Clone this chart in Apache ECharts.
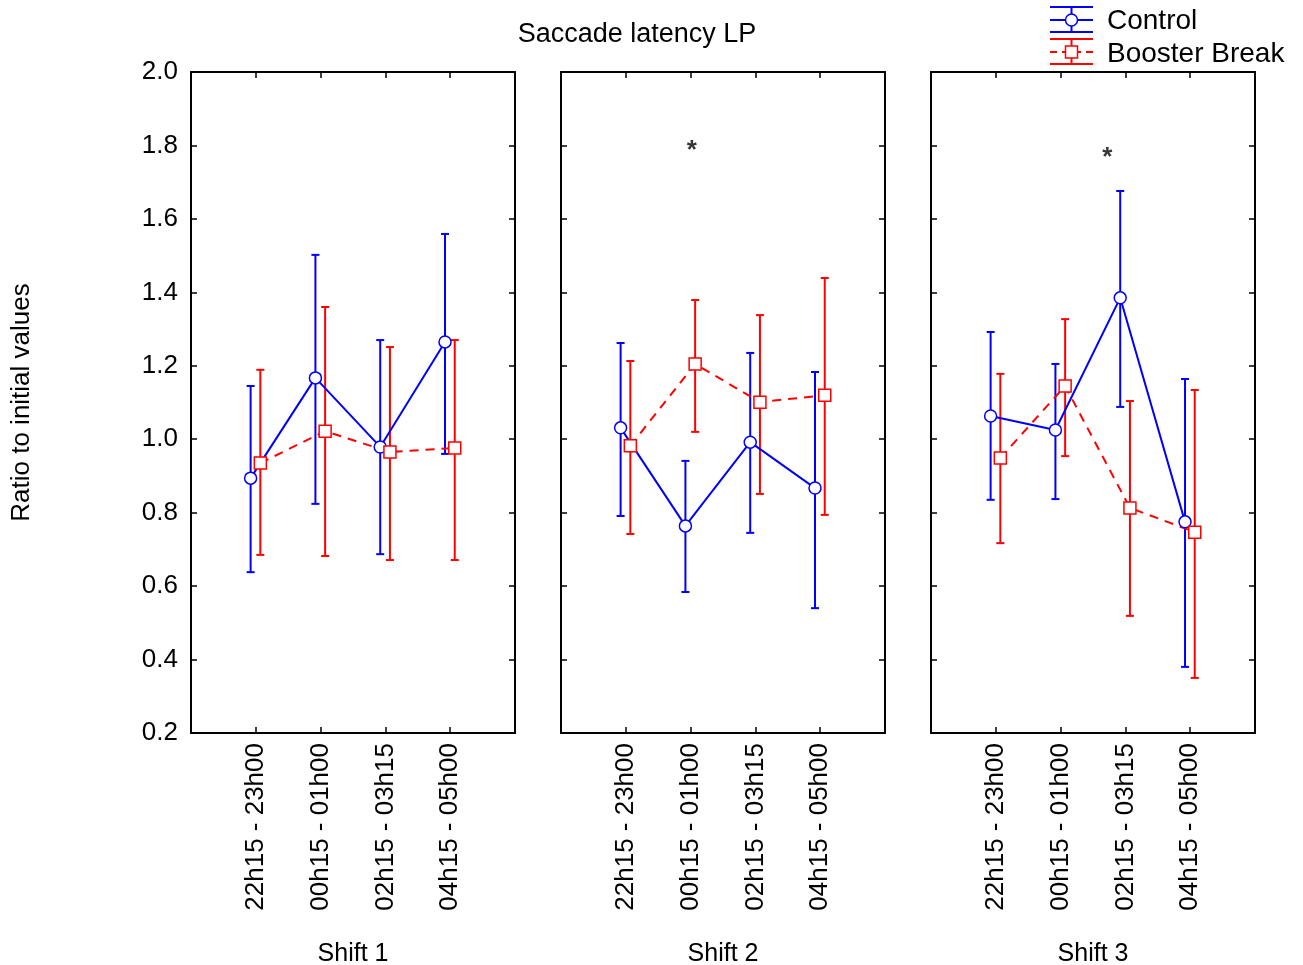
<!DOCTYPE html>
<html>
<head>
<meta charset="utf-8">
<script src="https://cdn.jsdelivr.net/npm/echarts@6/dist/echarts.min.js"></script>
<style>
  html, body { margin: 0; padding: 0; background: #fff; }
  #chart { width: 1303px; height: 965px; }
</style>
</head>
<body>
<div id="chart"></div>
<script>
// data
const timeLabels = ['22h15 - 23h00', '00h15 - 01h00', '02h15 - 03h15', '04h15 - 05h00'];
const shiftNames = ['Shift 1', 'Shift 2', 'Shift 3'];

const ctrlMean = [[0.894, 1.167, 0.979, 1.265], [1.031, 0.764, 0.992, 0.867], [1.063, 1.025, 1.385, 0.775]];
const ctrlHi = [[1.145, 1.502, 1.270, 1.559], [1.262, 0.941, 1.235, 1.183], [1.292, 1.205, 1.676, 1.164]];
const ctrlLo = [[0.638, 0.824, 0.687, 0.960], [0.791, 0.584, 0.745, 0.540], [0.835, 0.837, 1.088, 0.380]];

const boostMean = [[0.935, 1.022, 0.965, 0.976], [0.982, 1.205, 1.101, 1.120], [0.949, 1.145, 0.813, 0.747]];
const boostHi = [[1.189, 1.360, 1.251, 1.270], [1.213, 1.379, 1.338, 1.439], [1.178, 1.327, 1.104, 1.134]];
const boostLo = [[0.685, 0.682, 0.671, 0.671], [0.742, 1.020, 0.851, 0.794], [0.717, 0.954, 0.519, 0.350]];

// significance stars: [panel, x position, y value]
const stars = [[1, 2.02, 1.785], [2, 2.72, 1.767]];

const FONT = 'Liberation Sans, Arial, sans-serif';
const BLUE = '#0000ff';
const RED = '#ff0000';
const ctrlOffset = -0.08;
const boostOffset = 0.07;

const chart = echarts.init(document.getElementById('chart'));

const grids = [];
const xAxes = [];
const yAxes = [];
const series = [];
const lefts = [191, 561, 931];

const frameLine = { show: true, onZero: false, lineStyle: { color: '#000', width: 2 } };
const frameTick = { show: true, inside: true, length: 6, lineStyle: { color: '#000', width: 1.5 } };

lefts.forEach((left, i) => {
    grids.push({ left: left, top: 72, width: 324, height: 661, outerBoundsMode: 'none', containLabel: false });

    // bottom x axis with the time slots
    xAxes.push({
        type: 'value', gridIndex: i, position: 'bottom', min: 0, max: 5, interval: 1,
        axisLine: frameLine, axisTick: frameTick, splitLine: { show: false },
        axisLabel: {
            rotate: 90, margin: 10, color: '#000', fontSize: 26, fontFamily: FONT,
            formatter: v => timeLabels[v - 1] || ''
        },
        name: shiftNames[i], nameLocation: 'middle', nameGap: 209,
        nameTextStyle: { color: '#000', fontSize: 25, fontFamily: FONT }
    });
    // top frame
    xAxes.push({
        type: 'value', gridIndex: i, position: 'top', min: 0, max: 5, interval: 1,
        axisLine: frameLine, axisTick: frameTick,
        axisLabel: { show: false }, splitLine: { show: false }
    });

    yAxes.push({
        type: 'value', gridIndex: i, position: 'left', min: 0.2, max: 2.0, interval: 0.2,
        axisLine: frameLine, axisTick: frameTick, splitLine: { show: false },
        axisLabel: {
            show: i === 0, margin: 13, color: '#000', fontSize: 26, fontFamily: FONT,
            formatter: v => v.toFixed(1)
        },
        name: i === 0 ? 'Ratio to initial values' : '', nameLocation: 'middle', nameGap: 156,
        nameTextStyle: { color: '#000', fontSize: 26, fontFamily: FONT }
    });
    yAxes.push({
        type: 'value', gridIndex: i, position: 'right', min: 0.2, max: 2.0, interval: 0.2,
        axisLine: frameLine, axisTick: frameTick, splitLine: { show: false },
        axisLabel: { show: false }
    });

    const groups = [
        { name: 'Control', mean: ctrlMean[i], hi: ctrlHi[i], lo: ctrlLo[i], off: ctrlOffset, color: BLUE, dash: 'solid', symbol: 'circle', size: 12 },
        { name: 'Booster Break', mean: boostMean[i], hi: boostHi[i], lo: boostLo[i], off: boostOffset, color: RED, dash: [9, 7], symbol: 'rect', size: 12 }
    ];

    groups.forEach(g => {
        // error bars
        series.push({
            type: 'custom', name: g.name, xAxisIndex: 2 * i, yAxisIndex: 2 * i, z: 2,
            data: g.mean.map((m, k) => [k + 1 + g.off, g.lo[k], g.hi[k]]),
            renderItem: (params, api) => {
                const top = api.coord([api.value(0), api.value(2)]);
                const bot = api.coord([api.value(0), api.value(1)]);
                const w = 4;
                const style = { stroke: g.color, lineWidth: 2 };
                return {
                    type: 'group',
                    children: [
                        { type: 'line', shape: { x1: top[0], y1: top[1], x2: bot[0], y2: bot[1] }, style },
                        { type: 'line', shape: { x1: top[0] - w, y1: top[1], x2: top[0] + w, y2: top[1] }, style },
                        { type: 'line', shape: { x1: bot[0] - w, y1: bot[1], x2: bot[0] + w, y2: bot[1] }, style }
                    ]
                };
            }
        });
        // means
        series.push({
            type: 'line', name: g.name, xAxisIndex: 2 * i, yAxisIndex: 2 * i, z: 3,
            data: g.mean.map((m, k) => [k + 1 + g.off, m]),
            symbol: g.symbol, symbolSize: g.size, showAllSymbol: true,
            lineStyle: { color: g.color, width: 2, type: g.dash },
            itemStyle: { color: '#fff', borderColor: g.color, borderWidth: 1.5 }
        });
    });
});

// stars
stars.forEach(s => {
    series.push({
        type: 'scatter', xAxisIndex: 2 * s[0], yAxisIndex: 2 * s[0],
        data: [[s[1], s[2]]], symbolSize: 0,
        label: { show: true, formatter: '*', position: 'inside', color: '#000', fontSize: 26, fontWeight: 'bold', fontFamily: FONT }
    });
});

// legend drawn to look like the original error-bar keys
function legendKey(y, color, dashed, symbol) {
    const x0 = 1050, x1 = 1093, xc = 1071.5;
    const style = { stroke: color, lineWidth: 2 };
    const marker = symbol === 'circle'
        ? { type: 'circle', shape: { cx: xc, cy: y, r: 6 }, style: { fill: '#fff', stroke: color, lineWidth: 1.5 } }
        : { type: 'rect', shape: { x: xc - 6, y: y - 6, width: 12, height: 12 }, style: { fill: '#fff', stroke: color, lineWidth: 1.5 } };
    return [
        { type: 'line', shape: { x1: x0, y1: y - 13, x2: x1, y2: y - 13 }, style },
        { type: 'line', shape: { x1: x0, y1: y + 12, x2: x1, y2: y + 12 }, style },
        { type: 'line', shape: { x1: xc, y1: y - 13, x2: xc, y2: y + 12 }, style },
        { type: 'line', shape: { x1: x0, y1: y, x2: x1, y2: y }, style: { stroke: color, lineWidth: 2, lineDash: dashed ? [7, 5] : null } },
        marker
    ];
}

chart.setOption({
    animation: false,
    title: {
        text: 'Saccade latency LP', left: 632, top: 16, textAlign: 'center',
        textStyle: { color: '#000', fontSize: 27, fontWeight: 'normal', fontFamily: FONT }
    },
    grid: grids,
    xAxis: xAxes,
    yAxis: yAxes,
    series: series,
    graphic: [
        ...legendKey(20, BLUE, false, 'circle'),
        ...legendKey(52, RED, true, 'rect'),
        { type: 'text', style: { x: 1107, y: 21, text: 'Control', fill: '#000', font: '28px ' + FONT, verticalAlign: 'middle', textVerticalAlign: 'middle' } },
        { type: 'text', style: { x: 1107, y: 54, text: 'Booster Break', fill: '#000', font: '28px ' + FONT, verticalAlign: 'middle', textVerticalAlign: 'middle' } }
    ]
});
</script>
</body>
</html>
